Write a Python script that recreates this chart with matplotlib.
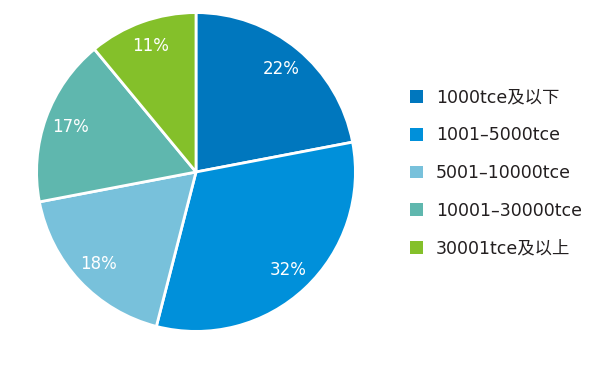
import matplotlib.pyplot as plt
from matplotlib.patches import Patch

plt.rcParams['font.family'] = ['DejaVu Sans', 'Noto Sans CJK SC']

# 데이터
labels = ['1000tce及以下', '1001–5000tce', '5001–10000tce', '10001–30000tce', '30001tce及以上']
shares = [22, 32, 18, 17, 11]
colors = ['#0077BE', '#0090DA', '#78C1DB', '#5FB7AE', '#84C02A']

fig = plt.figure(figsize=(6, 3.73), dpi=100)
ax = fig.add_axes([35 / 600, 40 / 373, 322 / 600, 322 / 373])

wedges, texts, autotexts = ax.pie(
    shares, colors=colors, startangle=90, counterclock=False,
    autopct='%d%%', pctdistance=0.84,
    wedgeprops=dict(edgecolor='white', linewidth=2),
    textprops=dict(color='white', fontsize=12))
ax.set_xlim(-1.01, 1.01)
ax.set_ylim(-1.01, 1.01)
ax.set_aspect('equal')

# 범례 - 테두리 없는 사각형
handles = [Patch(facecolor=c, edgecolor='none') for c in colors]
fig.legend(handles, labels, loc='center left', bbox_to_anchor=(0.683, 0.536),
           frameon=False, fontsize=12.5, handlelength=0.75, handleheight=0.75,
           handletextpad=0.75, labelspacing=1.13, borderpad=0, borderaxespad=0,
           labelcolor='#231F20')

fig.savefig('out.png', dpi=100, facecolor='white')
